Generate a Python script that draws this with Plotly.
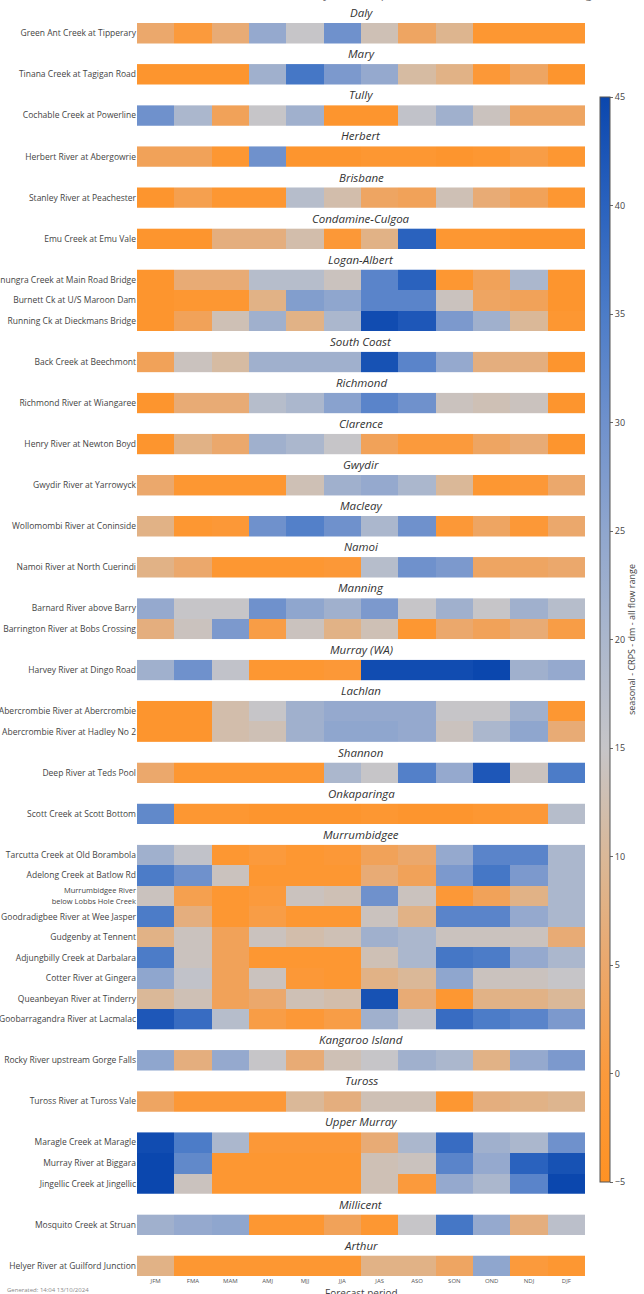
import plotly.graph_objects as go
from plotly.subplots import make_subplots

# ---------------- data ----------------
months = ["JFM", "FMA", "MAM", "AMJ", "MJJ", "JJA", "JAS", "ASO", "SON", "OND", "NDJ", "DJF"]

basins = ["Daly", "Mary", "Tully", "Herbert", "Brisbane", "Condamine-Culgoa", "Logan-Albert",
          "South Coast", "Richmond", "Clarence", "Gwydir", "Macleay", "Namoi", "Manning",
          "Murray (WA)", "Lachlan", "Shannon", "Onkaparinga", "Murrumbidgee", "Kangaroo Island",
          "Tuross", "Upper Murray", "Millicent", "Arthur"]

stations = [
    ["Green Ant Creek at Tipperary"],
    ["Tinana Creek at Tagigan Road"],
    ["Cochable Creek at Powerline"],
    ["Herbert River at Abergowrie"],
    ["Stanley River at Peachester"],
    ["Emu Creek at Emu Vale"],
    ["Canungra Creek at Main Road Bridge", "Burnett Ck at U/S Maroon Dam", "Running Ck at Dieckmans Bridge"],
    ["Back Creek at Beechmont"],
    ["Richmond River at Wiangaree"],
    ["Henry River at Newton Boyd"],
    ["Gwydir River at Yarrowyck"],
    ["Wollomombi River at Coninside"],
    ["Namoi River at North Cuerindi"],
    ["Barnard River above Barry", "Barrington River at Bobs Crossing"],
    ["Harvey River at Dingo Road"],
    ["Abercrombie River at Abercrombie", "Abercrombie River at Hadley No 2"],
    ["Deep River at Teds Pool"],
    ["Scott Creek at Scott Bottom"],
    ["Tarcutta Creek at Old Borambola", "Adelong Creek at Batlow Rd",
     "<span style='font-size:7.5px'>Murrumbidgee River<br>below Lobbs Hole Creek</span>",
     "Goodradigbee River at Wee Jasper",
     "Gudgenby at Tennent", "Adjungbilly Creek at Darbalara", "Cotter River at Gingera",
     "Queanbeyan River at Tinderry", "Goobarragandra River at Lacmalac"],
    ["Rocky River upstream Gorge Falls"],
    ["Tuross River at Tuross Vale"],
    ["Maragle Creek at Maragle", "Murray River at Biggara", "Jingellic Creek at Jingellic"],
    ["Mosquito Creek at Struan"],
    ["Helyer River at Guilford Junction"],
]

green_ant = [5, 0, 6, 24, 15, 30, 13, 4, 9, -2, -2, -2]
tinana = [-3, -3, -3, 22, 36, 28, 24, 11, 8, -1, 4, -3]
cochable = [30, 20, 3, 15, 22, -3, -3, 16, 22, 14, 4, 4]
herbert = [3, 3, -2, 30, -3, -3, -2, -2, -3, -2, 1, -2]
stanley = [-3, 2, -2, -2, 18, 12, 4, 3, 13, 6, 3, -2]
emu = [-3, -3, 7, 7, 12, -1, 8, 40, -2, -2, -3, -3]
canungra = [-3, 6, 6, 18, 18, 14, 33, 40, -2, 3, 20, -3]
burnett = [-3, -2, -2, 8, 27, 25, 33, 33, 14, 4, 3, -3]
running = [-3, 3, 13, 22, 8, 20, 44, 42, 28, 22, 10, -2]
back = [3, 14, 11, 22, 22, 22, 43, 33, 24, 7, 7, -3]
richmond = [-3, 6, 6, 18, 20, 26, 33, 30, 14, 13, 14, -3]
henry = [-3, 8, 5, 22, 20, 15, 3, 0, 0, 4, 6, -3]
gwydir = [5, -2, -2, -2, 13, 22, 24, 20, 10, -2, -1, 5]
wollomombi = [8, -2, -1, 30, 34, 30, 20, 30, -1, 4, -1, 5]
namoi = [8, 5, -2, -2, -2, -1, 18, 30, 28, 4, 4, 5]
barnard = [24, 15, 15, 30, 25, 22, 28, 15, 22, 15, 22, 18]
barrington = [7, 14, 28, 1, 14, 8, 13, -2, 5, 3, 6, 1]
harvey = [22, 30, 16, -2, -2, -1, 44, 44, 44, 45, 22, 24]
abercrombie = [-3, -3, 12, 15, 22, 24, 24, 24, 15, 15, 22, -2]
hadley = [-3, -3, 12, 13, 22, 25, 25, 24, 14, 20, 25, 6]
deep = [5, -2, -2, -2, -2, 20, 15, 34, 24, 42, 14, 35]
scott = [32, -2, -2, -3, -3, -3, -2, -3, -3, -2, -1, 18]
tarcutta = [22, 16, -2, 0, -2, -1, 3, 5, 24, 33, 33, 20]
adelong = [35, 30, 14, -2, -2, -2, 6, 3, 28, 36, 28, 20]
lobbs = [14, 2, -2, 0, 14, 13, 30, 14, -1, 3, 8, 20]
goodradigbee = [35, 7, -2, 1, -2, -2, 14, 8, 33, 33, 24, 20]
gudgenby = [8, 14, 3, 14, 12, 13, 22, 20, 14, 14, 14, 6]
adjungbilly = [35, 14, 3, -2, -2, -2, 13, 20, 36, 35, 24, 20]
cotter = [25, 16, 3, 14, -1, -2, 8, 10, 25, 14, 14, 15]
queanbeyan = [10, 13, 3, 5, 13, 12, 43, 6, -2, 8, 8, 10]
goobarragandra = [42, 38, 18, 1, -1, 1, 22, 16, 38, 35, 33, 28]
rocky = [25, 7, 24, 15, 6, 13, 15, 22, 20, 8, 24, 28]
tuross = [4, -1, -1, -1, 10, 7, 13, 13, -2, 7, 8, 9]
maragle = [44, 35, 20, -1, -1, -1, 6, 20, 38, 22, 20, 30]
biggara = [45, 32, -2, -2, -2, -2, 13, 14, 33, 24, 40, 43]
jingellic = [45, 14, -2, -2, -2, -2, 13, 0, 24, 20, 33, 45]
mosquito = [22, 24, 25, -2, -2, 3, -2, 15, 36, 24, 7, 17]
helyer = [8, -2, -2, -2, -2, -2, 8, 8, 4, 25, 0, -2]

basin_values = [
    [green_ant], [tinana], [cochable], [herbert], [stanley], [emu],
    [canungra, burnett, running], [back], [richmond], [henry], [gwydir],
    [wollomombi], [namoi], [barnard, barrington], [harvey],
    [abercrombie, hadley], [deep], [scott],
    [tarcutta, adelong, lobbs, goodradigbee, gudgenby, adjungbilly, cotter, queanbeyan, goobarragandra],
    [rocky], [tuross], [maragle, biggara, jingellic], [mosquito], [helyer],
]

colorbar_ticks = [-5, 0, 5, 10, 15, 20, 25, 30, 35, 40, 45]

# ---------------- layout geometry ----------------
W, H = 644, 1294
L, R, T, B = 137, 59, 23, 18
plot_w = W - L - R
plot_h = H - T - B
n_rows = sum(len(s) for s in stations)
n_gaps = len(basins) - 1
vs = 1.0 / (n_rows + n_gaps)

fig = make_subplots(rows=len(basins), cols=1, shared_xaxes=True,
                    vertical_spacing=vs,
                    row_heights=[len(s) for s in stations])

scale = [
    [0.00, "#ff9224"], [0.10, "#fb9a3c"], [0.20, "#eba86c"], [0.30, "#dab898"],
    [0.40, "#c6c5c8"], [0.50, "#abb7cd"], [0.60, "#8fa6ce"], [0.70, "#6f91cc"],
    [0.80, "#4c7cc8"], [0.90, "#2a62be"], [1.00, "#0b47ae"],
]

for i, (labels, vals) in enumerate(zip(stations, basin_values), start=1):
    fig.add_trace(go.Heatmap(z=vals, x=months, y=labels, coloraxis="coloraxis",
                             xgap=0, ygap=0), row=i, col=1)

fig.update_yaxes(autorange="reversed", showgrid=False, zeroline=False, ticks="",
                 tickfont=dict(size=8.5, color="#444"), automargin=False, showline=False)
fig.update_xaxes(showgrid=False, zeroline=False, ticks="", automargin=False, showline=False,
                 tickfont=dict(size=6, color="#555"))


def px_x(px):
    return (px - L) / plot_w


def px_y(px):
    return (H - B - px) / plot_h


# basin titles
anns = []
for i, name in enumerate(basins, start=1):
    key = "yaxis" if i == 1 else f"yaxis{i}"
    top = fig.layout[key].domain[1]
    anns.append(dict(text=f"<i>{name}</i>", x=0.5, y=top + vs / 2, xref="paper", yref="paper",
                     xanchor="center", yanchor="middle", showarrow=False,
                     font=dict(size=11.5, color="#333")))

anns.append(dict(text="Forecast period", x=0.5, y=px_y(1293),
                 xref="paper", yref="paper", xanchor="center", yanchor="middle",
                 showarrow=False, font=dict(size=10, color="#444")))
anns.append(dict(text="Generated: 14:04 13/10/2024", x=px_x(5), y=px_y(1290),
                 xref="paper", yref="paper", xanchor="left", yanchor="middle",
                 showarrow=False, font=dict(size=6, color="#888")))
anns.append(dict(text="Seasonal streamflow forecast skill by forecast period - CRPS skill score - all flow range",
                 x=0.5, y=px_y(-7), xref="paper", yref="paper", xanchor="center", yanchor="middle",
                 showarrow=False, font=dict(size=12, color="#777")))
anns.append(dict(text="seasonal - CRPS - dm - all flow range", x=px_x(631), y=px_y(640),
                 xref="paper", yref="paper", xanchor="center", yanchor="middle",
                 textangle=-90, showarrow=False, font=dict(size=9, color="#444")))

fig.update_layout(
    width=W, height=H,
    margin=dict(l=L, r=R, t=T, b=B, autoexpand=False),
    paper_bgcolor="white", plot_bgcolor="white",
    font=dict(family="Open Sans, sans-serif"),
    annotations=anns,
    coloraxis=dict(
        cmin=-5, cmax=45, colorscale=scale,
        colorbar=dict(
            x=px_x(600), xanchor="left", xpad=0,
            y=px_y((97 + 1182) / 2), yanchor="middle",
            lenmode="pixels", len=1085, thickness=10, ypad=0,
            outlinewidth=1, outlinecolor="#555",
            tickvals=colorbar_ticks, ticks="outside", ticklen=3, tickcolor="#666",
            tickfont=dict(size=9, color="#444"),
        ),
    ),
)

fig.write_html("out.html", config={"displayModeBar": False},
               post_script="document.body.style.margin='0';")
